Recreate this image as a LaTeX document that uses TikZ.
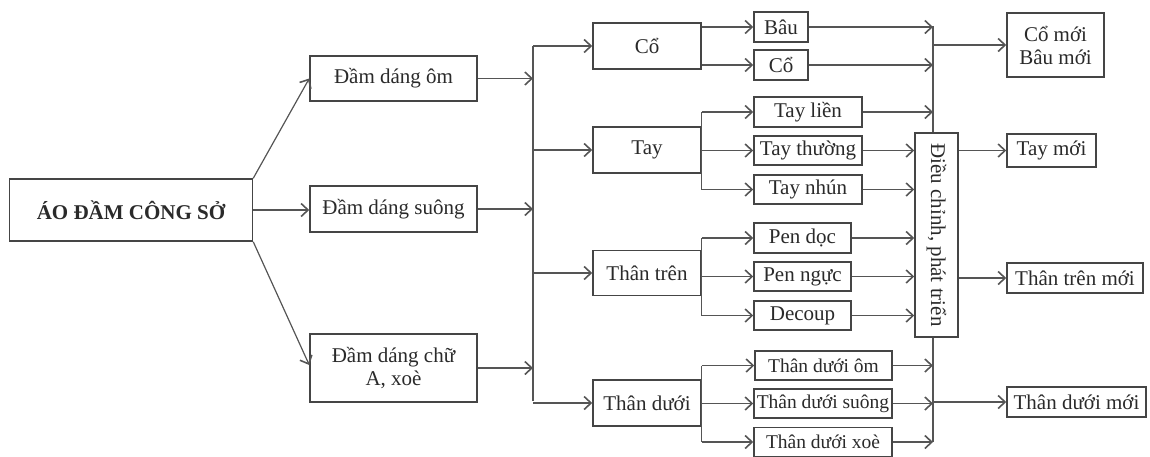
\documentclass[tikz,border=0pt]{standalone}
\usepackage{fontspec}
\setmainfont{Liberation Serif}
\usetikzlibrary{arrows.meta,backgrounds}
\definecolor{boxc}{HTML}{454545}
\definecolor{linec}{HTML}{555555}
\definecolor{txtc}{HTML}{2A2A2A}
\begin{document}
\begin{tikzpicture}[x=1pt,y=-1pt,
  box/.style={draw=boxc,line width=1.5pt,fill=white,inner sep=0pt,align=center,text=txtc,
    font=\fontsize{21}{23}\selectfont},
  sbox/.style={box,font=\fontsize{19.5}{21}\selectfont},
  conn/.style={draw=linec,line width=1.2pt},
  arr/.style={conn,-{Straight Barb[length=7pt,width=13pt,line width=1.6pt]}}]
\useasboundingbox (0,0) rectangle (1150,456);
% column 1
\node[box,minimum width=243pt,minimum height=62pt,font=\fontsize{21}{23}\selectfont\bfseries] (root) at (131,210) {ÁO ĐẦM CÔNG SỞ};
% column 2
\node[box,minimum width=167pt,minimum height=45pt] (m1) at (393.5,78.5) {Đầm dáng ôm};
\node[box,minimum width=167pt,minimum height=46pt] (m2) at (393.5,209) {Đầm dáng suông};
\node[box,minimum width=167pt,minimum height=68pt] (m3) at (393.5,368) {Đầm dáng chữ\\A, xoè};
% column 3
\node[box,minimum width=108pt,minimum height=46pt] (co) at (647,46) {Cổ};
\node[box,minimum width=108pt,minimum height=46pt] (tay) at (647,150) {Tay};
\node[box,minimum width=108pt,minimum height=45pt] (tt) at (647,273) {Thân trên};
\node[box,minimum width=108pt,minimum height=46pt] (td) at (647,403) {Thân dưới};
% column 4
\node[box,minimum width=54pt,minimum height=30pt] (bau) at (781,27) {Bâu};
\node[box,minimum width=54pt,minimum height=30pt] (co2) at (781,65) {Cổ};
\node[box,minimum width=108pt,minimum height=30pt] (tayl) at (808,112) {Tay liền};
\node[box,minimum width=108pt,minimum height=29pt] (tayt) at (808,150.5) {Tay thường};
\node[box,minimum width=108pt,minimum height=29pt] (tayn) at (808,189.5) {Tay nhún};
\node[box,minimum width=97pt,minimum height=30pt] (pend) at (802.5,238) {Pen dọc};
\node[box,minimum width=97pt,minimum height=29pt] (penn) at (802.5,276.5) {Pen ngực};
\node[box,minimum width=97pt,minimum height=29pt] (dec) at (802.5,315.5) {Decoup};
\node[sbox,minimum width=137pt,minimum height=29pt] (tdo) at (823.5,365.5) {Thân dưới ôm};
\node[sbox,minimum width=138pt,minimum height=29pt] (tds) at (823,403.5) {Thân dưới suông};
\node[sbox,minimum width=138pt,minimum height=29pt] (tdx) at (823,442) {Thân dưới xoè};
% column 5
\node[box,minimum width=43pt,minimum height=204pt] (dc) at (936.5,235) {\rotatebox{-90}{Điều chỉnh, phát triển}};
% column 6
\node[box,minimum width=97pt,minimum height=64pt] (comoi) at (1055.5,45) {Cổ mới\\Bâu mới};
\node[box,minimum width=89pt,minimum height=33pt] (taymoi) at (1051.5,150.5) {Tay mới};
\node[box,minimum width=136pt,minimum height=30pt] (ttm) at (1075,278) {Thân trên mới};
\node[box,minimum width=139pt,minimum height=30pt] (tdm) at (1076.5,402) {Thân dưới mới};
% bus coordinates
\coordinate (lbt) at (533,46);
\coordinate (lbb) at (533,401);
\coordinate (rbt) at (933,26);
\coordinate (rbb) at (933,442);
\begin{scope}[on background layer]
\draw[conn] (lbt) -- (lbb);
\draw[conn] (rbt) -- (rbb);
\end{scope}
% root -> column 2
\draw[arr] (root.north east) -- (m1.west);
\draw[arr] (root.east) -- (root.east -| m2.west);
\draw[arr] (root.south east) -- ([yshift=3pt]m3.west);
% column 2 -> left bus
\draw[arr] (m1.east) -- (m1.east -| lbt);
\draw[arr] (m2.east) -- (m2.east -| lbt);
\draw[arr] (m3.east) -- (m3.east -| lbt);
% left bus -> column 3
\draw[arr] (lbt) -- (co.west);
\draw[arr] (lbt |- tay.west) -- (tay.west);
\draw[arr] (lbt |- tt.west) -- (tt.west);
\draw[arr] (lbt |- td.west) -- (td.west);
% column 3 -> column 4
\draw[arr] (co.east |- bau.west) -- (bau.west);
\draw[arr] (co.east |- co2.west) -- (co2.west);
\draw[conn] (tay.east |- tayl.west) -- (tay.east |- tayn.west);
\draw[arr] (tay.east |- tayl.west) -- (tayl.west);
\draw[arr] (tay.east |- tayt.west) -- (tayt.west);
\draw[arr] (tay.east |- tayn.west) -- (tayn.west);
\draw[conn] (tt.east |- pend.west) -- (tt.east |- dec.west);
\draw[arr] (tt.east |- pend.west) -- (pend.west);
\draw[arr] (tt.east |- penn.west) -- (penn.west);
\draw[arr] (tt.east |- dec.west) -- (dec.west);
\draw[conn] (td.east |- tdo.west) -- (td.east |- tdx.west);
\draw[arr] (td.east |- tdo.west) -- (tdo.west);
\draw[arr] (td.east |- tds.west) -- (tds.west);
\draw[arr] (td.east |- tdx.west) -- (tdx.west);
% column 4 -> right bus / dc
\draw[arr] (bau.east) -- (bau.east -| rbt);
\draw[arr] (co2.east) -- (co2.east -| rbt);
\draw[arr] (tayl.east) -- (tayl.east -| rbt);
\draw[arr] (tayt.east) -- (tayt.east -| dc.west);
\draw[arr] (tayn.east) -- (tayn.east -| dc.west);
\draw[arr] (pend.east) -- (pend.east -| dc.west);
\draw[arr] (penn.east) -- (penn.east -| dc.west);
\draw[arr] (dec.east) -- (dec.east -| dc.west);
\draw[arr] (tdo.east) -- (tdo.east -| rbt);
\draw[arr] (tds.east) -- (tds.east -| rbt);
\draw[arr] (tdx.east) -- (tdx.east -| rbt);
% right side outputs
\draw[arr] (rbt |- comoi.west) -- (comoi.west);
\draw[arr] (dc.east |- taymoi.west) -- (taymoi.west);
\draw[arr] (dc.east |- ttm.west) -- (ttm.west);
\draw[arr] (rbt |- tdm.west) -- (tdm.west);
\end{tikzpicture}
\end{document}
